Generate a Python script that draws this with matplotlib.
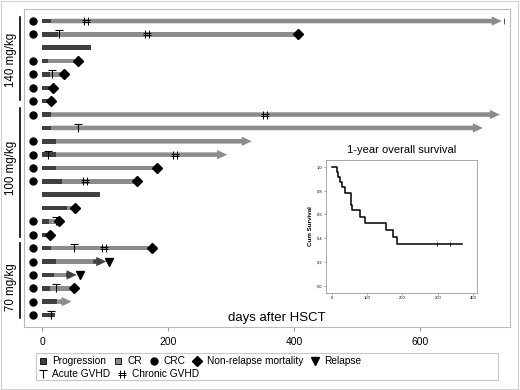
import numpy as np
import matplotlib
matplotlib.use("Agg")
import matplotlib.pyplot as plt
from matplotlib.path import Path
from matplotlib.lines import Line2D
from matplotlib.patches import Rectangle
import matplotlib.transforms as mtransforms

plt.rcParams['font.family'] = ['Liberation Sans', 'DejaVu Sans']

nan = np.nan

# swimmer rows, top to bottom
rows = np.arange(1, 24)
crc = [1, 1, 0, 1, 1, 1, 1,
       1, 0, 1, 1, 1, 1, 0, 0, 1, 1,
       1, 1, 1, 1, 1, 1]
prog_end = [14, 26, 77, 9, 13, 13, 10,
            14, 14, 22, 22, 22, 32, 92, 40, 11, 8,
            14, 22, 19, 13, 24, 20]
cr_end = [730, 407, nan, 57, 35, 18, nan,
          727, 700, 333, 294, 183, 150, nan, 52, 27, nan,
          175, 81, 38, 51, 47, nan]
cr_arrow = [1, 0, 0, 0, 0, 0, 0,
            1, 1, 1, 1, 0, 0, 0, 0, 0, 0,
            0, 0, 0, 0, 1, 0]
relapse_rows = [19, 20]
relapse_arrow_end = [102, 55]
relapse_day = [106, 60]

nrm_rows = [2, 4, 5, 6, 7, 12, 13, 15, 16, 17, 18, 21]
nrm_days = [407, 57, 35, 18, 15, 183, 150, 52, 27, 13, 175, 51]
acute_rows = [2, 5, 9, 11, 16, 18, 21, 23]
acute_days = [27, 16, 57, 10, 22, 51, 22, 15]
chronic_rows = [1, 2, 8, 11, 13, 18]
chronic_days = [70, 166, 354, 211, 68, 98]

groups = ['140 mg/kg', '100 mg/kg', '70 mg/kg']
group_span = [(0.7, 6.9), (7.5, 17.2), (17.6, 23.2)]
group_mid = [3.9, 12.0, 20.9]

# 1-year overall survival (Kaplan-Meier)
km_days = [0, 15, 18, 23, 28, 36, 54, 57, 78, 93, 152, 174, 185, 368]
km_surv = [1.0, 0.961, 0.917, 0.870, 0.828, 0.782, 0.681, 0.635, 0.583, 0.527, 0.469, 0.412, 0.350, 0.350]
km_censor = [298, 336]

DARK = '#404040'
GRAY = '#8c8c8c'
BAR_H = 0.34

T_marker = Path([(-1, 1), (1, 1), (0, 1), (0, -1)],
                [Path.MOVETO, Path.LINETO, Path.MOVETO, Path.LINETO])
hash_marker = Path([(-0.4, 1), (-0.4, -1), (0.4, 1), (0.4, -1),
                    (-1, 0.35), (1, 0.35), (-1, -0.35), (1, -0.35)],
                   [Path.MOVETO, Path.LINETO] * 4)

fig = plt.figure(figsize=(5.2, 3.9), dpi=100)
ax = fig.add_axes([0.0462, 0.1615, 0.9346, 0.8154])

for i, r in enumerate(rows):
    # CR part (gray), arrow if still going
    if not np.isnan(cr_end[i]):
        if cr_arrow[i]:
            ax.arrow(prog_end[i], r, cr_end[i] - prog_end[i], 0, width=BAR_H,
                     head_width=0.7, head_length=16, length_includes_head=True,
                     color=GRAY, lw=0, zorder=2)
        else:
            ax.barh(r, cr_end[i] - prog_end[i], left=prog_end[i], height=BAR_H,
                    color=GRAY, lw=0, zorder=2)
    ax.barh(r, prog_end[i], left=0, height=BAR_H, color=DARK, lw=0, zorder=3)

# relapse progression arrows
for r, e in zip(relapse_rows, relapse_arrow_end):
    s = cr_end[r - 1]
    ax.arrow(s, r, e - s, 0, width=BAR_H, head_width=0.7, head_length=16,
             length_includes_head=True, color=DARK, lw=0, zorder=3)

crc_rows = [r for r, c in zip(rows, crc) if c]
ax.plot([-14] * len(crc_rows), crc_rows, ls='none', marker='o', ms=5, color='black', zorder=4)
ax.plot(nrm_days, nrm_rows, ls='none', marker='D', ms=5, color='black', zorder=5)
ax.plot(relapse_day, relapse_rows, ls='none', marker='v', ms=6, color='black', zorder=5)
ax.plot(acute_days, acute_rows, ls='none', marker=T_marker, ms=6, mfc='none',
        mec='black', mew=0.8, zorder=5)
ax.plot(chronic_days, chronic_rows, ls='none', marker=hash_marker, ms=6, mfc='none',
        mec='black', mew=0.7, zorder=5)
ax.plot([733], [1], ls='none', marker='|', ms=5, mew=0.7, color='#555555', zorder=5)

ax.set_xlim(-28.6, 743)
ax.set_ylim(23.9, 0.1)
ax.set_yticks([])
ax.set_xticks([0, 200, 400, 600])
ax.tick_params(axis='x', length=3, color='#999999', labelsize=7.5, pad=4)
for sp in ax.spines.values():
    sp.set_color('#bbbbbb')
    sp.set_linewidth(0.8)
ax.text(373, 23.2, 'days after HSCT', ha='center', va='center', fontsize=9.5)

trans = mtransforms.blended_transform_factory(ax.transAxes, ax.transData)
for name, (a, b), m in zip(groups, group_span, group_mid):
    ax.plot([-0.008, -0.008], [a, b], transform=trans, clip_on=False, color='black', lw=1.2)
    ax.text(-0.027, m, name, transform=trans, rotation=90, ha='center', va='center',
            fontsize=8.3)

# inset survival curve
ins = fig.add_axes([0.627, 0.249, 0.290, 0.341])
ins.step(km_days, km_surv, where='post', color='black', lw=1.1)
cens_y = [km_surv[-1]] * len(km_censor)
ins.plot(km_censor, cens_y, ls='none', marker='|', ms=2.5, mew=0.6, color='black')
ins.set_xlim(-17, 411)
ins.set_ylim(-0.059, 1.059)
ins.set_xticks([0, 100, 200, 300, 400])
ins.set_yticks([0, 0.2, 0.4, 0.6, 0.8, 1.0])
ins.set_yticklabels(['0,0', '0,2', '0,4', '0,6', '0,8', '1,0'])
ins.tick_params(labelsize=3, length=1.5, width=0.4, pad=1, color='#666666')
ins.set_ylabel('Cum Survival', fontsize=4.5, fontweight='bold', labelpad=3)
for sp in ins.spines.values():
    sp.set_color('#999999')
    sp.set_linewidth(0.6)
fig.text(0.772, 0.615, '1-year overall survival', ha='center', va='center', fontsize=8)

# legend
h1 = [Line2D([], [], ls='none', marker='s', ms=5, mfc=DARK, mec='black', mew=0.6),
      Line2D([], [], ls='none', marker='s', ms=5, mfc=GRAY, mec='black', mew=0.6),
      Line2D([], [], ls='none', marker='o', ms=5, color='black'),
      Line2D([], [], ls='none', marker='D', ms=5, color='black'),
      Line2D([], [], ls='none', marker='v', ms=6, color='black')]
l1 = ['Progression', 'CR', 'CRC', 'Non-relapse mortality', 'Relapse']
h2 = [Line2D([], [], ls='none', marker=T_marker, ms=6, mfc='none', mec='black', mew=0.8),
      Line2D([], [], ls='none', marker=hash_marker, ms=6, mfc='none', mec='black', mew=0.7)]
l2 = ['Acute GVHD', 'Chronic GVHD']
leg_kw = dict(loc='upper left', frameon=False, fontsize=7.3, handlelength=0.8,
              handletextpad=0.5, columnspacing=0.8, borderpad=0, borderaxespad=0)
fig.legend(h1, l1, ncol=5, bbox_to_anchor=(0.075, 0.086), **leg_kw)
fig.legend(h2, l2, ncol=2, bbox_to_anchor=(0.075, 0.053), **leg_kw)

fig.add_artist(Rectangle((0.069, 0.0256), 0.889, 0.069, transform=fig.transFigure,
                         fill=False, edgecolor='#c8c8c8', lw=0.8))
fig.add_artist(Rectangle((0.002, 0.003), 0.995, 0.994, transform=fig.transFigure,
                         fill=False, edgecolor='#d0d0d0', lw=0.8))

fig.savefig('out.png', dpi=100)
